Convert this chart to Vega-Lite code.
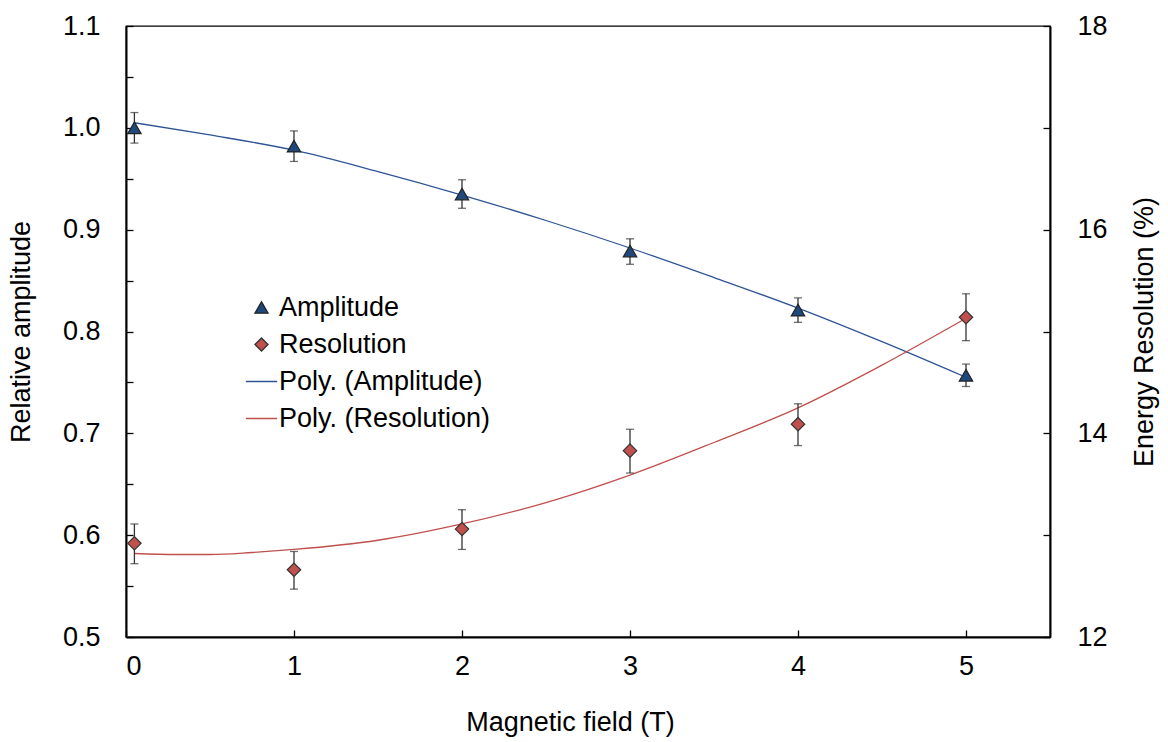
{
  "$schema": "https://vega.github.io/schema/vega-lite/v6.json",
  "width": 924,
  "height": 611,
  "autosize": {"type": "none"},
  "padding": {"left": 126, "top": 26, "right": 118, "bottom": 105},
  "background": "white",
  "config": {
    "view": {"stroke": "#000", "strokeWidth": 1.3},
    "font": "Liberation Sans",
    "axis": {
      "domainColor": "#000",
      "domainWidth": 2,
      "tickColor": "#000",
      "tickWidth": 1.3,
      "grid": false,
      "labelFont": "Liberation Sans",
      "labelFontSize": 27,
      "labelColor": "#000",
      "titleFont": "Liberation Sans",
      "titleFontSize": 27,
      "titleFontWeight": "normal",
      "titleColor": "#000"
    },
    "legend": {
      "labelFont": "Liberation Sans",
      "labelFontSize": 27,
      "labelColor": "#000",
      "labelLimit": 0,
      "padding": 0
    }
  },
  "datasets": {
    "pts": [
      {"series": "Amplitude", "x": 0.05, "v": 1.0, "lo": 0.985, "hi": 1.015},
      {"series": "Amplitude", "x": 1, "v": 0.982, "lo": 0.967, "hi": 0.997},
      {"series": "Amplitude", "x": 2, "v": 0.935, "lo": 0.921, "hi": 0.949},
      {"series": "Amplitude", "x": 3, "v": 0.879, "lo": 0.866, "hi": 0.891},
      {"series": "Amplitude", "x": 4, "v": 0.821, "lo": 0.809, "hi": 0.833},
      {"series": "Amplitude", "x": 5, "v": 0.757, "lo": 0.746, "hi": 0.768},
      {"series": "Resolution", "x": 0.05, "v": 12.92, "lo": 12.72, "hi": 13.11},
      {"series": "Resolution", "x": 1, "v": 12.66, "lo": 12.47, "hi": 12.84},
      {"series": "Resolution", "x": 2, "v": 13.06, "lo": 12.86, "hi": 13.25},
      {"series": "Resolution", "x": 3, "v": 13.83, "lo": 13.61, "hi": 14.04},
      {"series": "Resolution", "x": 4, "v": 14.09, "lo": 13.88, "hi": 14.29},
      {"series": "Resolution", "x": 5, "v": 15.14, "lo": 14.91, "hi": 15.37}
    ],
    "fitA": [
      {"x": 0.05, "v": 1.005}, {"x": 0.5, "v": 0.993}, {"x": 1, "v": 0.978},
      {"x": 1.5, "v": 0.957}, {"x": 2, "v": 0.934}, {"x": 2.5, "v": 0.909},
      {"x": 3, "v": 0.882}, {"x": 3.5, "v": 0.853}, {"x": 4, "v": 0.823},
      {"x": 4.5, "v": 0.790}, {"x": 5, "v": 0.755}
    ],
    "fitR": [
      {"x": 0.05, "v": 12.82}, {"x": 0.3, "v": 12.81}, {"x": 0.5, "v": 12.81},
      {"x": 0.75, "v": 12.83}, {"x": 1, "v": 12.86}, {"x": 1.5, "v": 12.95},
      {"x": 2, "v": 13.11}, {"x": 2.5, "v": 13.32}, {"x": 3, "v": 13.59},
      {"x": 3.5, "v": 13.91}, {"x": 4, "v": 14.25}, {"x": 4.5, "v": 14.67},
      {"x": 5, "v": 15.13}
    ]
  },
  "encoding": {
    "x": {
      "field": "x", "type": "quantitative",
      "scale": {"domain": [0, 5.5], "nice": false, "zero": false},
      "axis": {
        "title": "Magnetic field (T)",
        "values": [0, 1, 2, 3, 4, 5],
        "format": "d",
        "tickSize": -7,
        "labelPadding": 23,
        "titlePadding": 30,
        "titleX": 444,
        "titleAlign": "center"
      }
    }
  },
  "layer": [
    {
      "layer": [
        {
          "data": {"name": "fitA"},
          "mark": {"type": "line", "color": "#2F5496", "strokeWidth": 1.3, "interpolate": "monotone"},
          "encoding": {"y": {"field": "v", "type": "quantitative", "title": "Relative amplitude"}}
        },
        {
          "data": {"name": "pts"},
          "transform": [{"filter": "datum.series === 'Amplitude'"}],
          "mark": {"type": "errorbar", "ticks": {"size": 8, "thickness": 1.3, "color": "#333"}, "rule": {"color": "#333", "strokeWidth": 1.3}},
          "encoding": {
            "y": {"field": "lo", "type": "quantitative", "title": "Relative amplitude"},
            "y2": {"field": "hi"}
          }
        },
        {
          "data": {"name": "pts"},
          "transform": [{"filter": "datum.series === 'Amplitude'"}],
          "mark": {"type": "point", "filled": true, "opacity": 1, "strokeWidth": 1.2, "size": 180},
          "encoding": {
            "y": {
              "field": "v", "type": "quantitative",
              "title": "Relative amplitude",
              "scale": {"domain": [0.5, 1.1], "nice": false, "zero": false},
              "axis": {
                "orient": "left",
                "values": [0.5, 0.55, 0.6, 0.65, 0.7, 0.75, 0.8, 0.85, 0.9, 0.95, 1.0, 1.05, 1.1],
                "labelExpr": "abs(datum.value*10 - round(datum.value*10)) < 0.01 ? format(datum.value, '.1f') : ''",
                "tickSize": -7,
                "labelPadding": 33,
                "titlePadding": 27
              }
            },
            "fill": {"field": "series", "type": "nominal",
              "scale": {"domain": ["Amplitude", "Resolution", "Poly. (Amplitude)", "Poly. (Resolution)"], "range": ["#1F497D", "#C0504D", "#2F5496", "#C0504D"]},
              "legend": {"title": null, "orient": "none", "legendX": 122, "legendY": 268, "rowPadding": 9, "labelOffset": 4, "symbolSize": 170, "symbolStrokeWidth": 1.3}},
            "stroke": {"field": "series", "type": "nominal",
              "scale": {"domain": ["Amplitude", "Resolution", "Poly. (Amplitude)", "Poly. (Resolution)"], "range": ["#222", "#333", "#2F5496", "#C0504D"]},
              "legend": {"title": null, "orient": "none", "legendX": 122, "legendY": 268, "rowPadding": 9, "labelOffset": 4, "symbolSize": 170, "symbolStrokeWidth": 1.3}},
            "shape": {"field": "series", "type": "nominal",
              "scale": {"domain": ["Amplitude", "Resolution", "Poly. (Amplitude)", "Poly. (Resolution)"], "range": ["triangle-up", "diamond", "M-2.4,0H2.4", "M-2.4,0H2.4"]},
              "legend": {"title": null, "orient": "none", "legendX": 122, "legendY": 268, "rowPadding": 9, "labelOffset": 4, "symbolSize": 170, "symbolStrokeWidth": 1.3}}
          }
        }
      ]
    },
    {
      "layer": [
        {
          "data": {"name": "fitR"},
          "mark": {"type": "line", "color": "#C0504D", "strokeWidth": 1.3, "interpolate": "monotone"},
          "encoding": {"y": {"field": "v", "type": "quantitative", "title": "Energy Resolution (%)"}}
        },
        {
          "data": {"name": "pts"},
          "transform": [{"filter": "datum.series === 'Resolution'"}],
          "mark": {"type": "errorbar", "ticks": {"size": 8, "thickness": 1.3, "color": "#333"}, "rule": {"color": "#333", "strokeWidth": 1.3}},
          "encoding": {
            "y": {"field": "lo", "type": "quantitative", "title": "Energy Resolution (%)"},
            "y2": {"field": "hi"}
          }
        },
        {
          "data": {"name": "pts"},
          "transform": [{"filter": "datum.series === 'Resolution'"}],
          "mark": {"type": "point", "filled": true, "opacity": 1, "strokeWidth": 1.2, "size": 180},
          "encoding": {
            "y": {
              "field": "v", "type": "quantitative",
              "title": "Energy Resolution (%)",
              "scale": {"domain": [12, 18], "nice": false, "zero": false},
              "axis": {
                "orient": "right",
                "titleAngle": -90,
                "values": [12, 13, 14, 15, 16, 17, 18],
                "labelExpr": "datum.value % 2 === 0 ? format(datum.value, 'd') : ''",
                "tickSize": -7,
                "labelPadding": 34,
                "titlePadding": 51
              }
            },
            "fill": {"field": "series", "type": "nominal"},
            "stroke": {"field": "series", "type": "nominal"},
            "shape": {"field": "series", "type": "nominal"}
          }
        }
      ]
    }
  ],
  "resolve": {"scale": {"y": "independent"}}
}
